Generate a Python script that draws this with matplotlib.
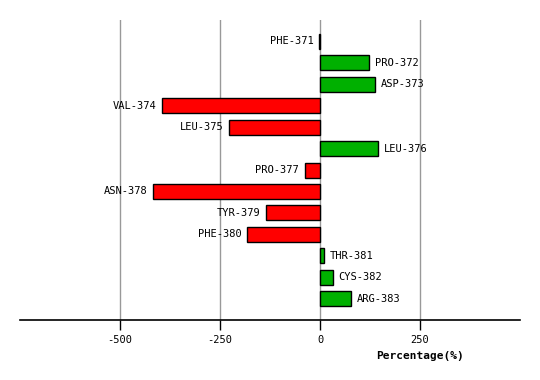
import matplotlib
matplotlib.use("Agg")
import matplotlib.pyplot as plt

residues = ["PHE-371", "PRO-372", "ASP-373", "VAL-374", "LEU-375", "LEU-376",
            "PRO-377", "ASN-378", "TYR-379", "PHE-380", "THR-381", "CYS-382", "ARG-383"]
values = [-2, 123, 138, -395, -227, 146, -38, -417, -135, -182, 10, 32, 78]
xticks = [-500, -250, 0, 250]

fig = plt.figure(figsize=(5.4, 3.8), dpi=100)
ax = fig.add_axes([20/540, 1-320/380, 500/540, 300/380])

ypos = list(range(len(residues)))
colors = ["#00B000" if v > 0 else "#FF0000" for v in values]
ax.barh(ypos, values, height=0.7, color=colors, edgecolor="black", linewidth=1, zorder=3)

for y, v, name in zip(ypos, values, residues):
    if v > 0:
        ax.annotate(name, (v, y), xytext=(4, 0), textcoords="offset points",
                    ha="left", va="center", fontsize=7.5, family="DejaVu Sans Mono")
    else:
        ax.annotate(name, (v, y), xytext=(-4, 0), textcoords="offset points",
                    ha="right", va="center", fontsize=7.5, family="DejaVu Sans Mono")

ax.set_xlim(-750, 500)
ax.set_ylim(len(residues), -1)
ax.set_yticks([])
ax.set_xticks(xticks)
ax.set_xticklabels([str(t) for t in xticks], fontsize=7.5, family="DejaVu Sans Mono")
ax.tick_params(axis="x", length=7, width=1, pad=4)
for t in xticks:
    ax.axvline(t, color="#999999", linewidth=1, zorder=1)

for s in ["top", "left", "right"]:
    ax.spines[s].set_visible(False)
ax.spines["bottom"].set_linewidth(1.2)

fig.text(420/540, 1-356/380, "Percentage(%)", ha="center", va="center",
         fontsize=8, fontweight="bold", family="DejaVu Sans Mono")

fig.savefig("out.png", dpi=100)
